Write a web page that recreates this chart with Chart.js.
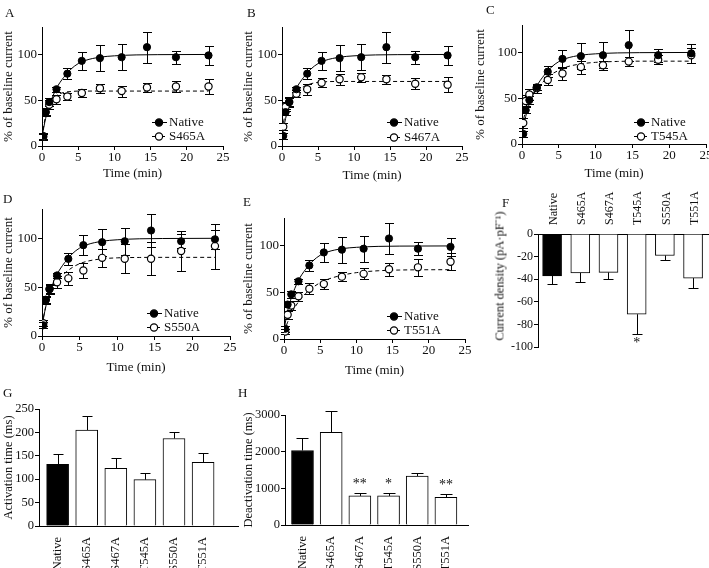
<!DOCTYPE html>
<html>
<head>
<meta charset="utf-8">
<script src="https://cdn.jsdelivr.net/npm/chart.js"></script>
<style>
body{margin:0;background:#fff;overflow:hidden}
#wrap{position:relative;width:709px;height:568px;overflow:hidden;background:#fff}
canvas{position:absolute}
.lt{position:absolute;font:13px "Liberation Serif",serif;color:#111;line-height:13px}
#fTitle{position:absolute;left:499px;top:276px;font:12.5px "Liberation Serif",serif;color:#111;white-space:nowrap;transform:translate(-50%,-50%) rotate(-90deg)}
</style>
</head>
<body>
<div id="wrap">
  <canvas id="cA" width="235" height="195" style="left:0;top:0"></canvas>
  <canvas id="cB" width="240" height="195" style="left:235px;top:0"></canvas>
  <canvas id="cC" width="250" height="195" style="left:470px;top:0"></canvas>
  <canvas id="cD" width="240" height="195" style="left:0;top:195px"></canvas>
  <canvas id="cE" width="240" height="195" style="left:235px;top:195px"></canvas>
  <canvas id="cF" width="250" height="180" style="left:470px;top:180px"></canvas>
  <canvas id="cG" width="240" height="168" style="left:0;top:400px"></canvas>
  <canvas id="cH" width="240" height="168" style="left:235px;top:400px"></canvas>
  <div class="lt" style="left:5px;top:6px">A</div>
  <div class="lt" style="left:247px;top:6px">B</div>
  <div class="lt" style="left:486px;top:3px">C</div>
  <div class="lt" style="left:3px;top:192px">D</div>
  <div class="lt" style="left:243px;top:195px">E</div>
  <div class="lt" style="left:502px;top:196px">F</div>
  <div class="lt" style="left:3px;top:386px">G</div>
  <div class="lt" style="left:238px;top:386px">H</div>
  <div id="fTitle">Current density (pA·pF⁻¹)</div>
</div>
<script>
// time course data (mean and SEM, % of baseline current)
const times = [0.17, 0.5, 1, 2, 3.5, 5.5, 8, 11, 14.5, 18.5, 23];
const nativeMean = [11, 37, 48, 62, 79, 93, 96, 97, 108, 97, 99];
const nativeSem = [3, 3, 4, 3, 6, 10, 14, 14, 17, 7, 10];

const s465aMean = [10, 37, 45, 51, 54, 58, 63, 60, 64, 65, 65];
const s465aSem = [3, 4, 5, 5, 4, 4, 5, 6, 5, 6, 8];
const s467aMean = [21, 43, 48, 57, 62, 69, 73, 75, 73, 68, 67];
const s467aSem = [4, 5, 5, 4, 6, 5, 6, 5, 5, 6, 8];
const t545aMean = [23, 47, 54, 61, 70, 77, 84, 86, 90, 92, 97];
const t545aSem = [5, 6, 6, 5, 6, 7, 7, 5, 5, 5, 8];
const s550aMean = [13, 37, 48, 55, 59, 67, 80, 79, 79, 87, 92];
const s550aSem = [3, 4, 5, 6, 7, 8, 9, 15, 17, 20, 23];
const t551aMean = [8, 26, 36, 46, 54, 59, 67, 70, 75, 77, 83];
const t551aSem = [3, 4, 5, 5, 6, 5, 5, 6, 7, 9, 9];

// fitted curves
const fitTimes = [0, 0.5, 1, 2, 3, 4, 5, 6, 8, 10, 13, 16, 23];
const nativeFit = [10, 30, 44, 63, 75, 84, 90, 93.5, 97, 98.5, 99.5, 99.8, 100];
const s465aFit = [10, 33, 45, 55, 58.5, 59.5, 60, 60, 60, 60, 60, 60, 60];
const s467aFit = [18, 36, 47, 59, 65, 68, 69.5, 70.2, 70.5, 70.5, 70.5, 70.5, 70.5];
const t545aFit = [20, 36, 46, 60, 69, 76, 80.5, 84, 87.5, 89.2, 90.2, 90.5, 90.5];
const s550aFit = [12, 30, 42, 56, 64, 70, 74, 76.5, 79, 80, 80.4, 80.5, 80.5];
const t551aFit = [8, 18, 27, 40, 49, 55.5, 60.5, 64, 68.5, 71.3, 73.3, 74.1, 74.5];

// bar panels
const mutants = ['Native', 'S465A', 'S467A', 'T545A', 'S550A', 'T551A'];
const densityMean = [-37, -34.5, -34, -71, -19, -39];
const densitySem = [7, 8, 5.5, 17.5, 4.3, 9];
const densityStars = ['', '', '', '*', '', ''];
const activationMean = [132, 205, 123, 99, 187, 136];
const activationSem = [21, 29, 22, 15, 14, 20];
const deactivationMean = [2033, 2525, 793, 793, 1331, 757];
const deactivationSem = [337, 593, 73, 91, 100, 82];
const deactivationStars = ['', '', '**', '*', '', '**'];

const FONT = '"Liberation Serif", "Times New Roman", serif';
Chart.defaults.font.family = FONT;
Chart.defaults.font.size = 13;
Chart.defaults.color = '#111';
Chart.defaults.animation = false;
Chart.defaults.responsive = false;
Chart.defaults.events = [];
Chart.defaults.plugins.legend.display = false;
Chart.defaults.plugins.tooltip.enabled = false;

// error bars (and significance stars) drawn through the y scale
const errPlugin = {
  id: 'errs',
  beforeDatasetsDraw(chart) {
    const ctx = chart.ctx, ys = chart.scales.y;
    ctx.save();
    ctx.strokeStyle = '#000';
    ctx.lineWidth = 1;
    chart.data.datasets.forEach((ds, di) => {
      if (!ds.sem) return;
      const meta = chart.getDatasetMeta(di);
      const cap = ds.capHalf || 4.5;
      meta.data.forEach((el, i) => {
        const v = ds.data[i].y, e = ds.sem[i];
        const x = Math.round(el.x) + 0.5;
        ctx.beginPath();
        if (ds.oneSided) {
          const s = v < 0 ? -1 : 1;
          const y1 = ys.getPixelForValue(v);
          const y2 = Math.round(ys.getPixelForValue(v + s * e)) + 0.5;
          ctx.moveTo(x, y1); ctx.lineTo(x, y2);
          ctx.moveTo(x - cap, y2); ctx.lineTo(x + cap, y2);
        } else {
          const y1 = Math.round(ys.getPixelForValue(v - e)) + 0.5;
          const y2 = Math.round(ys.getPixelForValue(v + e)) + 0.5;
          ctx.moveTo(x, y1); ctx.lineTo(x, y2);
          ctx.moveTo(x - cap, y1); ctx.lineTo(x + cap, y1);
          ctx.moveTo(x - cap, y2); ctx.lineTo(x + cap, y2);
        }
        ctx.stroke();
      });
    });
    ctx.restore();
  },
  afterDatasetsDraw(chart) {
    const ctx = chart.ctx, ys = chart.scales.y;
    ctx.save();
    ctx.fillStyle = '#111';
    ctx.font = '14px ' + FONT;
    ctx.textAlign = 'center';
    ctx.textBaseline = 'alphabetic';
    chart.data.datasets.forEach((ds, di) => {
      if (!ds.stars) return;
      const meta = chart.getDatasetMeta(di);
      meta.data.forEach((el, i) => {
        if (!ds.stars[i]) return;
        const v = ds.data[i].y, s = v < 0 ? -1 : 1;
        const y = ys.getPixelForValue(v + s * ds.sem[i]);
        ctx.fillText(ds.stars[i], el.x, s > 0 ? y - 5 : y + 13);
      });
    });
    ctx.restore();
  }
};

// legend drawn inside the plot, lower right
const legendPlugin = {
  id: 'inLegend',
  afterDraw(chart, args, o) {
    if (!o.rows) return;
    const ctx = chart.ctx, ca = chart.chartArea;
    const tx = ca.right - o.fromRight;
    ctx.save();
    ctx.font = '13px ' + FONT;
    ctx.fillStyle = '#111';
    ctx.textBaseline = 'middle';
    o.rows.forEach((r, i) => {
      const y = Math.round(ca.bottom - o.up[i]) + 0.5;
      ctx.strokeStyle = '#000';
      ctx.lineWidth = 1;
      ctx.setLineDash(r.filled ? [] : [3, 2]);
      ctx.beginPath();
      ctx.moveTo(tx - 16, y); ctx.lineTo(tx - 1, y);
      ctx.stroke();
      ctx.setLineDash([]);
      ctx.beginPath();
      ctx.arc(tx - 9, y, 3.6, 0, Math.PI * 2);
      ctx.fillStyle = r.filled ? '#000' : '#fff';
      ctx.fill();
      ctx.lineWidth = 1.2;
      ctx.stroke();
      ctx.fillStyle = '#111';
      ctx.fillText(r.text, tx + 1, y);
    });
    ctx.restore();
  }
};

function timeCourse(id, name, mean, sem, fit, box) {
  const pts = ys => times.map((t, i) => ({x: t, y: ys[i]}));
  const curve = ys => fitTimes.map((t, i) => ({x: t, y: ys[i]}));
  new Chart(document.getElementById(id), {
    type: 'scatter',
    data: {
      datasets: [
        {data: pts(nativeMean), sem: nativeSem, pointRadius: 3.6, pointBackgroundColor: '#000',
         pointBorderColor: '#000', pointBorderWidth: 1, order: 0},
        {data: pts(mean), sem: sem, pointRadius: 3.6, pointBackgroundColor: '#fff',
         pointBorderColor: '#000', pointBorderWidth: 1.2, order: 0},
        {data: curve(nativeFit), showLine: true, pointRadius: 0, borderColor: '#000', borderWidth: 1,
         cubicInterpolationMode: 'monotone', order: 1},
        {data: curve(fit), showLine: true, pointRadius: 0, borderColor: '#000', borderWidth: 1,
         borderDash: [4, 3], cubicInterpolationMode: 'monotone', order: 1}
      ]
    },
    options: {
      layout: {padding: box.pad},
      scales: {
        x: {
          type: 'linear', min: 0, max: 25,
          ticks: {stepSize: 5, padding: 0},
          grid: {drawOnChartArea: false, tickLength: 4, color: '#000'},
          border: {color: '#000'},
          title: {display: true, text: 'Time (min)', padding: {top: 0, bottom: 0}},
          afterFit: s => { s.height = box.xh; }
        },
        y: {
          min: 0, max: 130,
          ticks: {stepSize: 50, padding: 1},
          afterBuildTicks: s => { s.ticks = s.ticks.filter(t => t.value % 50 === 0); },
          grid: {drawOnChartArea: false, tickLength: 4, color: '#000'},
          border: {color: '#000'},
          title: {display: true, text: '% of baseline current', padding: {top: 1, bottom: 0}},
          afterFit: s => { s.width = box.yw; }
        }
      },
      plugins: {
        inLegend: {
          fromRight: box.legRight, up: box.legUp,
          rows: [{text: 'Native', filled: true}, {text: name, filled: false}]
        }
      }
    },
    plugins: [errPlugin, legendPlugin]
  });
}

function barPanel(id, mean, sem, stars, box) {
  new Chart(document.getElementById(id), {
    type: 'bar',
    data: {
      datasets: [{
        data: mean.map((v, i) => ({x: i, y: v})),
        sem: sem, stars: stars, oneSided: true, capHalf: box.cap,
        backgroundColor: mutants.map((m, i) => i === 0 ? '#000' : '#fff'),
        borderColor: '#000', borderWidth: 1, barThickness: box.bw
      }]
    },
    options: {
      layout: {padding: box.pad},
      scales: {
        x: {
          type: 'linear', position: box.xpos, min: box.xmin, max: box.xmax, offset: false,
          afterBuildTicks: s => { s.ticks = mutants.map((m, i) => ({value: i})); },
          ticks: {autoSkip: false, minRotation: 90, maxRotation: 90, padding: box.lpad,
                  labelOffset: box.loff, font: {size: box.fs}, callback: v => mutants[v]},
          grid: {display: false},
          border: {color: '#000'},
          afterFit: s => { s.height = box.xh; }
        },
        y: {
          min: box.ymin, max: box.ymax,
          ticks: {stepSize: box.step, padding: 1, font: {size: box.fs}, callback: v => String(v)},
          grid: {drawOnChartArea: false, tickLength: 4, color: '#000'},
          border: {color: '#000'},
          title: {display: !!box.title, text: box.title, font: {size: box.fs},
                  padding: {top: 1, bottom: 0}},
          afterFit: s => { s.width = box.yw; }
        }
      }
    },
    plugins: [errPlugin]
  });
}

timeCourse('cA', 'S465A', s465aMean, s465aSem, s465aFit,
  {pad: {left: 0, top: 27, right: 12, bottom: 14}, yw: 42, xh: 35, legRight: 55, legUp: [24, 10]});
timeCourse('cB', 'S467A', s467aMean, s467aSem, s467aFit,
  {pad: {left: 5, top: 27, right: 13, bottom: 12}, yw: 42, xh: 37, legRight: 59, legUp: [24, 9]});
timeCourse('cC', 'T545A', t545aMean, t545aSem, t545aFit,
  {pad: {left: 2, top: 25, right: 14, bottom: 14}, yw: 50, xh: 37, legRight: 56, legUp: [22, 8]});
timeCourse('cD', 'S550A', s550aMean, s550aSem, s550aFit,
  {pad: {left: 0, top: 14, right: 10, bottom: 15}, yw: 42, xh: 39, legRight: 67, legUp: [23, 9]});
timeCourse('cE', 'T551A', t551aMean, t551aSem, t551aFit,
  {pad: {left: 5, top: 23, right: 10, bottom: 12}, yw: 44, xh: 39, legRight: 62, legUp: [23, 9]});

barPanel('cF', densityMean, densitySem, densityStars,
  {pad: {left: 22, top: 9, right: 12, bottom: 13}, yw: 46, xh: 45, xpos: 'top', lpad: 1, loff: 16, fs: 12,
   xmin: -0.5, xmax: 5.53, bw: 19, cap: 5, ymin: -100, ymax: 0, step: 20});
barPanel('cG', activationMean, activationSem, null,
  {pad: {left: 0, top: 9, right: 2, bottom: 0}, yw: 39, xh: 42, xpos: 'bottom', lpad: 3, loff: 0, fs: 12.5,
   xmin: -0.64, xmax: 6.2, bw: 22, cap: 5, ymin: 0, ymax: 250, step: 50, title: 'Activation time (ms)'});
barPanel('cH', deactivationMean, deactivationSem, deactivationStars,
  {pad: {left: 5, top: 15, right: 7, bottom: 0}, yw: 45, xh: 43, xpos: 'bottom', lpad: 3, loff: 0, fs: 12.5,
   xmin: -0.61, xmax: 5.77, bw: 22, cap: 6, ymin: 0, ymax: 3000, step: 1000, title: 'Deactivation time (ms)'});
</script>
</body>
</html>
